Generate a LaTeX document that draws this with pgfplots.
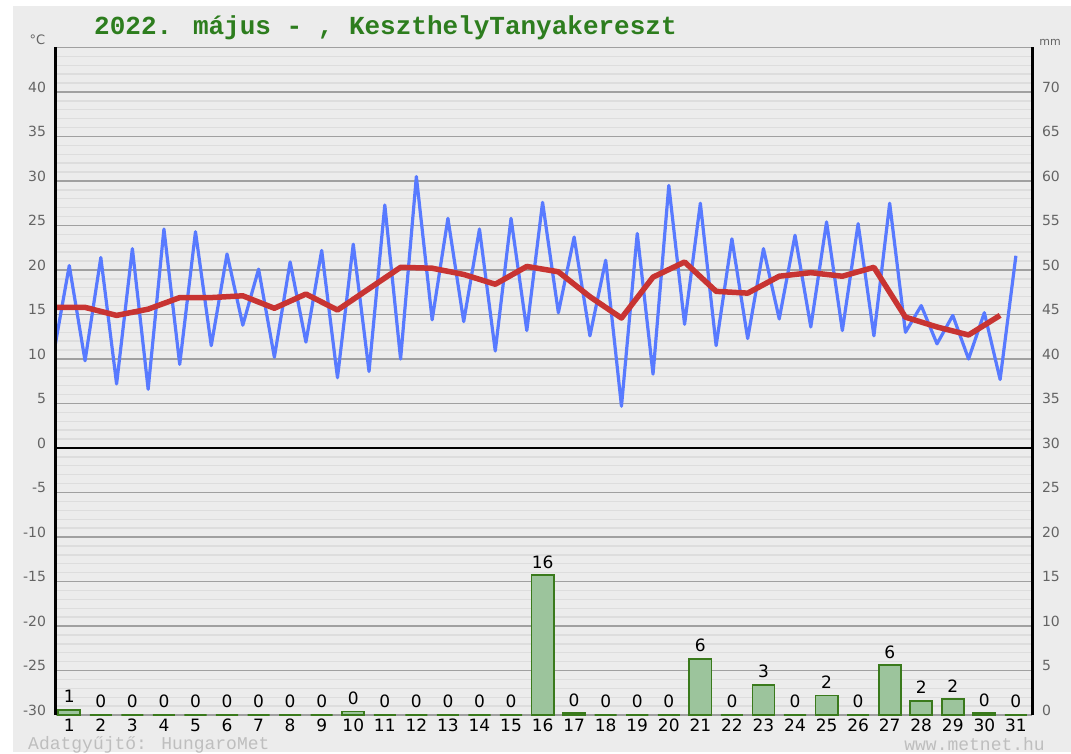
\documentclass[border=0pt]{standalone}
\usepackage{pgfplots}
\pgfplotsset{compat=1.18}
\usepackage{pgfplotstable}
\usepackage{fontspec}
\setmainfont{DejaVu Sans}
\newfontfamily\mono{Liberation Mono}
\definecolor{bgc}{RGB}{236,236,236}
\definecolor{mingrid}{RGB}{221,221,221}
\definecolor{majgrid}{RGB}{160,160,160}
\definecolor{bluel}{RGB}{88,122,255}
\definecolor{redl}{RGB}{200,52,50}
\definecolor{barfill}{RGB}{156,196,156}
\definecolor{baredge}{RGB}{58,122,28}
\definecolor{titlec}{RGB}{45,125,30}
\definecolor{labgray}{RGB}{100,100,100}
\definecolor{footc}{RGB}{190,190,190}

\pgfplotstableread{
x y
0.5 10.5
1 20.5
1.5 9.8
2 21.4
2.5 7.2
3 22.4
3.5 6.6
4 24.6
4.5 9.4
5 24.3
5.5 11.5
6 21.8
6.5 13.8
7 20.1
7.5 10.2
8 20.9
8.5 11.9
9 22.2
9.5 7.9
10 22.9
10.5 8.6
11 27.3
11.5 10.0
12 30.5
12.5 14.4
13 25.8
13.5 14.2
14 24.6
14.5 10.9
15 25.8
15.5 13.2
16 27.6
16.5 15.2
17 23.7
17.5 12.6
18 21.1
18.5 4.7
19 24.1
19.5 8.3
20 29.5
20.5 13.9
21 27.5
21.5 11.5
22 23.5
22.5 12.3
23 22.4
23.5 14.5
24 23.9
24.5 13.6
25 25.4
25.5 13.2
26 25.2
26.5 12.6
27 27.5
27.5 13.0
28 16.0
28.5 11.7
29 14.9
29.5 10.0
30 15.2
30.5 7.7
31 21.6
}\tempdata

\pgfplotstableread{
x y
0.5 15.8
1.5 15.8
2.5 14.9
3.5 15.6
4.5 16.9
5.5 16.9
6.5 17.1
7.5 15.7
8.5 17.3
9.5 15.5
10.5 17.9
11.5 20.3
12.5 20.2
13.5 19.5
14.5 18.4
15.5 20.4
16.5 19.8
17.5 17.0
18.5 14.6
19.5 19.2
20.5 20.9
21.5 17.6
22.5 17.4
23.5 19.3
24.5 19.7
25.5 19.3
26.5 20.3
27.5 14.7
28.5 13.6
29.5 12.7
30.5 14.9
}\meandata

\pgfplotstableread{
x y lab
1 0.6 1
2 0 0
3 0 0
4 0 0
5 0 0
6 0 0
7 0 0
8 0 0
9 0 0
10 0.4 0
11 0 0
12 0 0
13 0 0
14 0 0
15 0 0
16 15.7 16
17 0.2 0
18 0 0
19 0 0
20 0 0
21 6.3 6
22 0 0
23 3.4 3
24 0 0
25 2.2 2
26 0 0
27 5.6 6
28 1.6 2
29 1.8 2
30 0.2 0
31 0 0
}\raindata

\begin{document}
\begin{tikzpicture}[x=1pt,y=1pt]
\useasboundingbox (0,0) rectangle (1071,753);
\fill[white] (0,0) rectangle (1071,753);
\fill[bgc] (13,1) rectangle (1071,747);

\begin{axis}[
  at={(55.7pt,38pt)}, anchor=south west,
  scale only axis, width=976.6pt, height=667.5pt,
  xmin=0.57, xmax=31.52, ymin=-30, ymax=45,
  axis line style={draw=none},
  major tick length=0pt, minor tick length=0pt,
  xtick={1,...,31},
  ytick={-30,-25,...,40},
  minor ytick={-30,-29,...,45},
  extra y ticks={45},
  extra y tick labels={},
  extra y tick style={grid=major},
  ymajorgrids, yminorgrids,
  major grid style={majgrid, line width=1.3pt},
  minor grid style={mingrid, line width=1.4pt},
  /pgf/number format/assume math mode=true,
  yticklabel style={font=\fontsize{14}{16}\selectfont, text=labgray, anchor=east, inner sep=0pt, xshift=-9.5pt, yshift=5pt},
  xticklabel style={font=\fontsize{17}{20}\selectfont, text=black, anchor=north, inner sep=0pt, yshift=-4pt},
  clip=true,
]
\addplot[bluel, line width=3.2pt, line join=round] table[x=x,y=y] {\tempdata};
\addplot[redl, line width=5.5pt, line join=round] table[x=x,y=y] {\meandata};
\draw[black, line width=2pt] (rel axis cs:0,0.4) -- (rel axis cs:1,0.4);
\end{axis}

\begin{axis}[
  at={(55.7pt,38pt)}, anchor=south west,
  scale only axis, width=976.6pt, height=667.5pt,
  xmin=0.57, xmax=31.52, ymin=0, ymax=75,
  axis line style={draw=none},
  major tick length=0pt, minor tick length=0pt,
  xtick=\empty,
  ytick={0,5,...,70},
  yticklabel pos=right,
  /pgf/number format/assume math mode=true,
  yticklabel style={font=\fontsize{14}{16}\selectfont, text=labgray, anchor=west, inner sep=0pt, xshift=9.5pt, yshift=5pt},
]
\addplot[ybar, bar width=0.7, fill=barfill, draw=baredge, line width=1.8pt,
  point meta=explicit symbolic,
  nodes near coords,
  nodes near coords style={font=\fontsize{17}{20}\selectfont, text=black, inner sep=0pt, anchor=south, yshift=6pt}]
  table[x=x,y=y,meta=lab] {\raindata};
\end{axis}

% axis spines
\draw[black, line width=3pt] (55.7,38) -- (55.7,705.5);
\draw[black, line width=3pt] (1032.3,38) -- (1032.3,705.5);

% labels
\node[font=\fontsize{13}{15}\selectfont, text=labgray] at (37.5,713) {°C};
\node[font=\fontsize{11}{13}\selectfont, text=labgray] at (1050,710.5) {mm};
\node[font=\mono\bfseries\fontsize{26}{30}\selectfont, text=titlec, anchor=west, inner sep=0pt] at (94,725) {2022. május - , KeszthelyTanyakereszt};
\node[font=\mono\fontsize{18}{20}\selectfont, text=footc, anchor=west, inner sep=0pt] at (28,8.5) {Adatgyűjtő: HungaroMet};
\node[font=\mono\fontsize{18}{20}\selectfont, text=footc, anchor=east, inner sep=0pt] at (1045,9) {www.metnet.hu};
\end{tikzpicture}
\end{document}
